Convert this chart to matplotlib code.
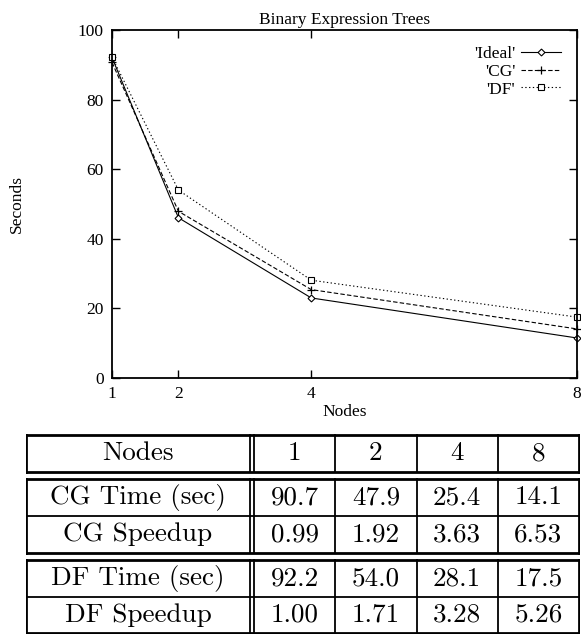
import matplotlib
matplotlib.use("Agg")
import matplotlib.pyplot as plt

nodes = [1, 2, 4, 8]
ideal_time = [92.1, 46.05, 23.0, 11.5]
cg_time = [90.7, 47.9, 25.4, 14.1]
cg_speedup = [0.99, 1.92, 3.63, 6.53]
df_time = [92.2, 54.0, 28.1, 17.5]
df_speedup = [1.00, 1.71, 3.28, 5.26]

row_labels = ["CG Time (sec)", "CG Speedup", "DF Time (sec)", "DF Speedup"]
row_values = [cg_time, cg_speedup, df_time, df_speedup]
row_formats = ["{:.1f}", "{:.2f}", "{:.1f}", "{:.2f}"]

W, H = 581, 634
fig = plt.figure(figsize=(W / 100, H / 100), dpi=100)

plot_font = "Liberation Serif"
table_font = "cmr10"


def px_rect(x0, y0, x1, y1):
    # pixel box (top-left origin) -> figure fraction
    return [x0 / W, 1 - y1 / H, (x1 - x0) / W, (y1 - y0) / H]


# ---- line plot ----
ax = fig.add_axes(px_rect(112, 30, 577, 378))
ax.plot(nodes, ideal_time, color="black", lw=0.8, ls="-", marker="D",
        ms=3.5, mfc="white", mew=0.8, label="'Ideal'", clip_on=False)
ax.plot(nodes, cg_time, color="black", lw=0.8, ls=(0, (4, 2)), marker="+",
        ms=6, mew=0.9, label="'CG'", clip_on=False)
ax.plot(nodes, df_time, color="black", lw=0.8, ls=(0, (1.2, 2.2)), marker="s",
        ms=5, mfc="white", mew=0.8, label="'DF'", clip_on=False)

ax.set_xlim(1, 8)
ax.set_ylim(0, 100)
ax.set_xticks(nodes)
ax.set_yticks([0, 20, 40, 60, 80, 100])
ax.tick_params(direction="in", length=6, width=1.0, top=True, right=True,
               labelsize=12.5, pad=6)
for lab in ax.get_xticklabels() + ax.get_yticklabels():
    lab.set_fontfamily(plot_font)
for sp in ax.spines.values():
    sp.set_linewidth(1.3)

ax.set_title("Binary Expression Trees", fontsize=12.5, family=plot_font, pad=4)
ax.set_xlabel("Nodes", fontsize=12.5, family=plot_font, labelpad=1)
ax.set_ylabel("Seconds", fontsize=12.5, family=plot_font, labelpad=38)

leg = ax.legend(loc="upper right", frameon=False, markerfirst=False,
                handlelength=2.3, handletextpad=0.35, labelspacing=0.1,
                borderaxespad=0.5, prop={"family": plot_font, "size": 12.5})
for t in leg.get_texts():
    t.set_ha("right")

# ---- table ----
tx = fig.add_axes(px_rect(26, 433, 580, 634))
tx.set_xlim(26, 580)
tx.set_ylim(634, 433)
tx.axis("off")

col_edges = [26, 250, 254, 335.25, 416.5, 497.75, 579]
blocks = [(435, 472, 1), (479, 553, 2), (560, 633, 2)]
lw = 2.0
lkw = dict(color="black", lw=lw, solid_capstyle="projecting")

for top, bot, nrows in blocks:
    left, right = col_edges[0], col_edges[-1]
    tx.plot([left, right], [top, top], **lkw)
    tx.plot([left, right], [bot, bot], **lkw)
    for xe in col_edges:
        tx.plot([xe, xe], [top, bot], color="black",
                lw=lw if xe in (left, right) else 1.3)
    step = (bot - top) / nrows
    for k in range(1, nrows):
        tx.plot([left, right], [top + k * step, top + k * step],
                color="black", lw=1.3)

centers = [(col_edges[0] + col_edges[1]) / 2] + [
    (col_edges[i] + col_edges[i + 1]) / 2 for i in range(2, 6)]

tkw = dict(ha="center", va="center", family=table_font, fontsize=19.5)
# header
hy = (blocks[0][0] + blocks[0][1]) / 2
tx.text(centers[0], hy, "Nodes", **tkw)
for c, n in zip(centers[1:], nodes):
    tx.text(c, hy, str(n), **tkw)

row_y = []
for top, bot, nrows in blocks[1:]:
    step = (bot - top) / nrows
    row_y += [top + step * (k + 0.5) for k in range(nrows)]

for y, lab, vals, fmt in zip(row_y, row_labels, row_values, row_formats):
    tx.text(centers[0], y, lab, **tkw)
    for c, v in zip(centers[1:], vals):
        tx.text(c, y, fmt.format(v), **tkw)

fig.savefig("out.png", dpi=100)
